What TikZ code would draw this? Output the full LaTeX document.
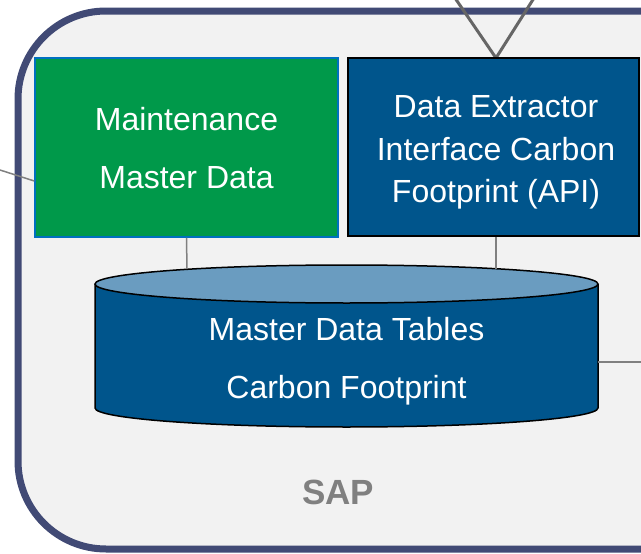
\documentclass[tikz,border=0pt]{standalone}
\usepackage{fontspec}
\setmainfont{Liberation Sans}
\usepackage{tikz}
\usepackage{xcolor}
\definecolor{sapframe}{HTML}{414A75}
\definecolor{sapbg}{HTML}{F2F2F2}
\definecolor{maintgreen}{HTML}{00994A}
\definecolor{maintedge}{HTML}{0070C0}
\definecolor{boxblue}{HTML}{00558C}
\definecolor{cyltop}{HTML}{6A9CC0}
\definecolor{linkgray}{HTML}{808080}
\definecolor{feedgray}{HTML}{666666}

\begin{document}
\begin{tikzpicture}[x=1pt, y=-1pt,
        link/.style={draw=linkgray, line width=1.5pt},
        bigtext/.style={text=white, align=center, inner sep=0pt}]
        \useasboundingbox (0,0) rectangle (641,554);
        \clip (0,0) rectangle (641,554);
        \fill[white] (0,0) rectangle (641,554);

        % SAP frame
        \draw[draw=sapframe, fill=sapbg, line width=7pt, rounded corners=88pt] (18,11) rectangle (730,549);
        \node[text=linkgray, font=\fontsize{35}{42}\selectfont\bfseries] (sap) at (338,492) {SAP};

        % feed from above
        \coordinate (feed left) at (455,-2);
        \coordinate (feed right) at (534,-2);
        \draw[draw=feedgray, line width=3pt] (feed left) -- (496,58) -- (feed right);

        % Maintenance
        \node[bigtext, draw=maintedge, fill=maintgreen, line width=1.5pt,
              minimum width=303pt, minimum height=179pt, text depth=-3pt,
              font=\fontsize{32}{58}\selectfont] (maint) at (186.5,147.5) {Maintenance\\Master Data};

        % Data extractor
        \node[bigtext, draw=black, fill=boxblue, line width=1.5pt,
              minimum width=291pt, minimum height=178pt, text height=111pt, text depth=0pt,
              font=\fontsize{32}{42.5}\selectfont] (api) at (493.5,147) {\hspace*{5pt}Data Extractor\\\hspace*{5pt}Interface Carbon\\\hspace*{5pt}Footprint (API)};

        % Master data tables
        \filldraw[fill=boxblue, draw=black, line width=1.5pt] (95,284) -- (95,408) arc[start angle=180, end angle=0, x radius=251.5, y radius=19] -- (598,284);
        \filldraw[fill=cyltop, draw=black, line width=1.5pt] (346.5,284) ellipse [x radius=251.5, y radius=19];
        \node[bigtext, minimum width=503pt, font=\fontsize{32}{58}\selectfont] (tables) at (346.5,361) {Master Data Tables\\Carbon Footprint};

        % links
        \coordinate (maint top) at (187,269);
        \coordinate (api top) at (496,269);
        \coordinate (west end) at (0,170);
        \coordinate (east end) at (641,362);
        \draw[link] (maint.south) -- (maint top);
        \draw[link] ([xshift=2.5pt]api.south) -- (api top);
        \draw[link] (west end) -- ([yshift=-33.5pt]maint.west);
        \draw[link] ([yshift=-1pt]tables.east) -- (east end);
    \end{tikzpicture}
\end{document}
